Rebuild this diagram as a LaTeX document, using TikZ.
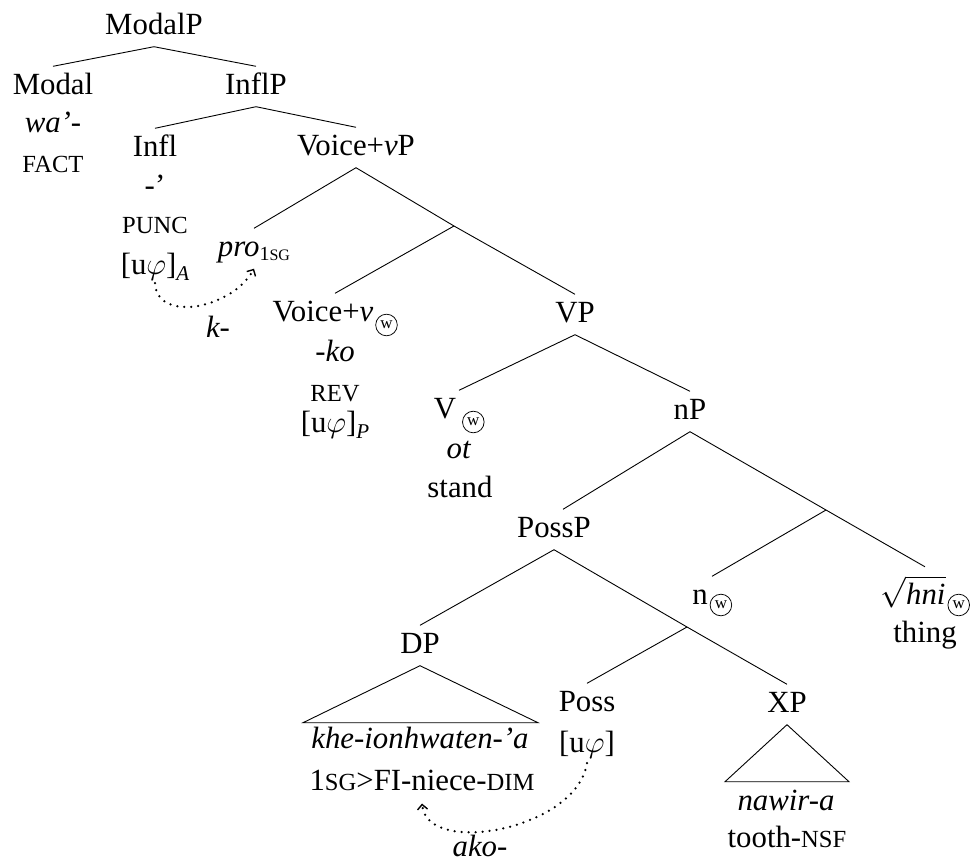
\documentclass[tikz,border=0pt]{standalone}
\usepackage{fix-cm}
\usepackage{fontspec}
\setmainfont{Liberation Serif}
\usetikzlibrary{arrows.meta}
\newcommand\smc[1]{{\fontsize{24.6}{28}\selectfont #1}}
\newcommand\wspace[1]{\rule{#1}{0pt}}
\begin{document}
\begin{tikzpicture}[x=1pt,y=-1pt,
  font=\fontsize{30.8}{37}\selectfont,
  tn/.style={anchor=base,text height=21pt,text depth=6pt,inner ysep=6.5pt,inner xsep=2pt},
  ln/.style={anchor=base,inner sep=0pt},
  wtxt/.style={inner sep=0pt,font=\fontsize{17}{17}\selectfont},
  wring/.style={line width=0.75pt},
  edge/.style={line width=0.9pt},
  dotarrow/.style={line width=2.5pt,line cap=round,dash pattern=on 0pt off 7pt,
    -{Straight Barb[length=5pt,width=10pt,line width=1.4pt]}}]
\useasboundingbox (0,0) rectangle (971,862);
% nodes
\node[tn] (modalP) at (154,34) {ModalP};
\node[tn] (modal) at (53,94) {Modal};
\node[ln] (modal2) at (53,132) {\textit{wa’-}};
\node[ln] (modal3) at (53,172) {\smc{FACT}};
\node[tn] (inflP) at (256,94) {InflP};
\node[tn] (infl) at (155,156) {Infl};
\node[ln] (infl2) at (155,195) {-’};
\node[ln] (infl3) at (155,233) {\smc{PUNC}};
\node[ln] (infl4) at (155,274) {[u$\varphi$]\raisebox{-6pt}{\fontsize{21}{21}\selectfont\itshape A}};
\node[tn] (vP) at (356,155) {Voice+\textit{v}P};
\node[tn] (pro) at (254,256) {\textit{pro}\raisebox{-4pt}{\fontsize{20}{20}\selectfont 1\fontsize{16}{16}\selectfont SG}};
\coordinate (b1) at (454,226);
\node[tn] (voicev) at (335,321) {Voice+\textit{v}\wspace{24pt}};
\node[wtxt] (voicevw) at ([xshift=-13pt,yshift=-4pt]voicev.base east) {w};
\node[ln] (voicev2) at (335,361) {\textit{-ko}};
\node[ln] (voicev3) at (335,401) {\smc{REV}};
\node[ln] (voicev4) at (335,432) {[u$\varphi$]\raisebox{-6pt}{\fontsize{21}{21}\selectfont\itshape P}};
\node[tn] (vp) at (575,322) {VP};
\node[tn] (v) at (459,418) {V\wspace{28pt}};
\node[wtxt] (vw) at ([xshift=-13pt,yshift=-4pt]v.base east) {w};
\node[ln] (v2) at (459,458) {\textit{ot}};
\node[ln] (v3) at (460,497) {stand};
\node[tn] (nP) at (690,419) {nP};
\node[tn] (possP) at (554,537) {PossP};
\coordinate (b2) at (826,510);
\node[tn] (n) at (712,604) {n\wspace{24pt}};
\node[wtxt] (nw) at ([xshift=-13pt,yshift=-1pt]n.base east) {w};
\node[tn,text height=30.5pt] (root) at (925,604) {$\sqrt{\textit{hni}}$\wspace{24pt}};
\node[wtxt] (rootw) at ([xshift=-13pt,yshift=-1pt]root.base east) {w};
\node[ln] (root2) at (925,642) {thing};
\node[tn] (dp) at (420,653) {DP};
\node[ln] (dp2) at (420,748) {\textit{khe-ionhwaten-’a}};
\node[ln] (dp3) at (422,790) {1\smc{SG}>FI-niece-\smc{DIM}};
\coordinate (b3) at (687,627);
\node[tn] (poss) at (587,711) {Poss};
\node[ln] (poss2) at (587,752) {[u$\varphi$]};
\node[tn] (xp) at (787,712) {XP};
\node[ln] (xp2) at (786,810) {\textit{nawir-a}};
\node[ln] (xp3) at (787,847) {tooth-\smc{NSF}};
\node[ln] (klbl) at (218,337) {\textit{k-}};
\node[ln] (akolbl) at (480,856) {\textit{ako-}};
% circles round the w marks
\foreach \w in {voicevw,vw,nw,rootw}
  \draw[wring] (\w.center) circle[radius=10.8pt];
% edges
\draw[edge] (modalP.south) -- (modal.north);
\draw[edge] (modalP.south) -- (inflP.north);
\draw[edge] (inflP.south) -- (infl.north);
\draw[edge] (inflP.south) -- (vP.north);
\draw[edge] (vP.south) -- (pro.north);
\draw[edge] (vP.south) -- (b1);
\draw[edge] (b1) -- (voicev.north);
\draw[edge] (b1) -- (vp.north);
\draw[edge] (vp.south) -- (v.north);
\draw[edge] (vp.south) -- (nP.north);
\draw[edge] (nP.south) -- ([xshift=9pt]possP.north);
\draw[edge] (nP.south) -- (b2);
\draw[edge] (b2) -- (n.north);
\draw[edge] (b2) -- (root.north);
\draw[edge] (possP.south) -- (dp.north);
\draw[edge] (possP.south) -- (b3);
\draw[edge] (b3) -- (poss.north);
\draw[edge] (b3) -- (xp.north);
% triangles
\draw[edge,line join=miter] (dp.south) -- ++(-117,57) -- ++(235,0) -- cycle;
\draw[edge,line join=miter] (xp.south) -- ++(-62,57) -- ++(124,0) -- cycle;
% dotted arrows
\draw[dotarrow] ([yshift=-3pt]infl4.south) .. controls +(2,40) and +(-22,40) .. (pro.south);
\draw[dotarrow] ([yshift=-5pt]poss2.south) .. controls +(-10,66) and +(5,54) .. ([yshift=-13pt]dp3.south);
\end{tikzpicture}
\end{document}
